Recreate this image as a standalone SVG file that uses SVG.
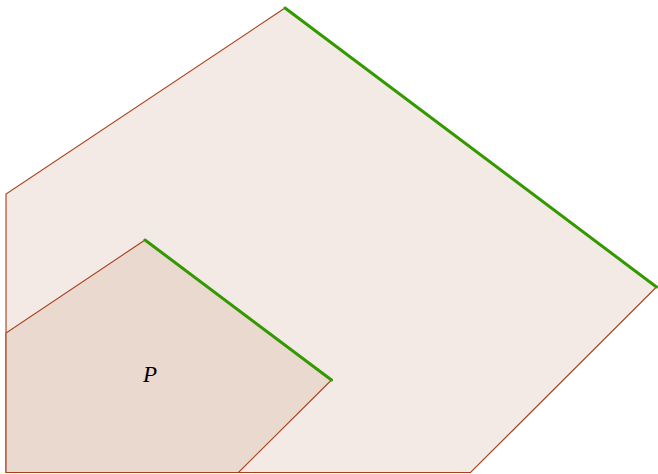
<svg xmlns="http://www.w3.org/2000/svg" width="658" height="474" viewBox="0 0 658 474">
<style>
.poly{stroke:#a8401a;stroke-width:1.1;stroke-linejoin:miter}
.green{stroke:#339900;stroke-width:3;fill:none;stroke-linecap:round}
.lbl{font-family:"Liberation Serif","DejaVu Serif",serif;font-style:italic;font-size:23px;fill:#000}
</style>
<g id="outer">
<polygon class="poly" points="6,472.5 6,194 285,8 656.5,287 470.5,472.5" fill="#f3e9e5"/>
</g>
<g id="inner">
<polygon class="poly" points="6,472.5 6,333 145,240 331.5,380 238.5,472.5" fill="#e9d9cf"/>
<text class="lbl" x="150" y="382" text-anchor="middle">P</text>
</g>
<g id="connectors">
<line class="green" x1="285" y1="8" x2="656.5" y2="287"/>
<line class="green" x1="145" y1="240" x2="331.5" y2="380"/>
</g>
</svg>
